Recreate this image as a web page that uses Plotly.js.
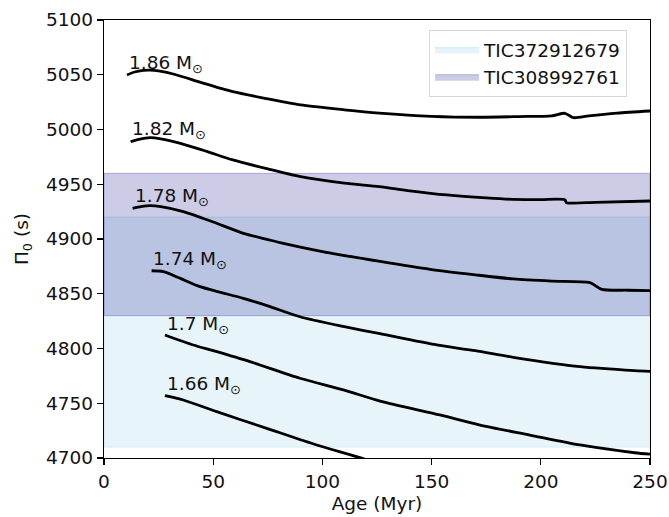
<!DOCTYPE html>
<html>
<head>
<meta charset="utf-8">
<script src="https://cdn.plot.ly/plotly-3.0.1.min.js"></script>
<style>
  html, body { margin: 0; padding: 0; background: #fff; }
  #chart { width: 669px; height: 517px; }
</style>
</head>
<body>
<div id="chart"></div>
<script>
// Period-spacing evolution tracks, Pi_0 (s) versus age (Myr), one per stellar mass
const masses = ["1.86", "1.82", "1.78", "1.74", "1.7", "1.66"];

const age186 = [10.5, 14, 18, 21, 25, 33, 45, 59, 75, 90, 110, 126, 150, 172, 190, 205, 211, 215, 222, 235, 250];
const pi186  = [5049.8, 5052.5, 5054, 5054.3, 5053.5, 5050, 5042.5, 5034.5, 5028, 5022.4, 5018, 5015, 5012, 5011.2, 5011.8, 5012.5, 5014.8, 5010.8, 5012.5, 5015, 5016.9];

const age182 = [12.2, 16, 21, 26, 35, 47, 59, 75, 90, 110, 126, 140, 157, 175, 187, 200, 211, 211.8, 225, 250];
const pi182  = [4988.9, 4991, 4992.5, 4991.5, 4987.4, 4980, 4972.2, 4964, 4956.9, 4951, 4947.8, 4944, 4940.2, 4937.5, 4936.2, 4936, 4935.8, 4933.2, 4933.5, 4934.7];

const age178 = [13.1, 17, 21, 26, 36.3, 50, 63.8, 75, 82.1, 100, 126.4, 149.3, 170, 187.4, 205, 222.5, 227.9, 240, 250];
const pi178  = [4928, 4929.5, 4930.4, 4929.5, 4925, 4915.5, 4905.2, 4899.5, 4896, 4888.5, 4879.5, 4872.3, 4867.3, 4863.5, 4861.5, 4860.1, 4854, 4853.2, 4852.8];

const age174 = [21.8, 27.2, 35, 44, 63.8, 75, 89.7, 110, 126.4, 153, 170, 187.4, 218, 243, 250];
const pi174  = [4871, 4870.2, 4864, 4856.5, 4845.8, 4839, 4829, 4820, 4813.5, 4803, 4798, 4792, 4783.4, 4779.8, 4779.2];

const age170 = [27.9, 40.9, 50, 66.8, 89.7, 110, 126.4, 153.8, 172.2, 195, 218, 243, 250];
const pi170  = [4812.3, 4803.2, 4798, 4788, 4772.8, 4762, 4752, 4739.3, 4730.1, 4721, 4711.9, 4704.8, 4703.5];

const age166 = [27.9, 36.3, 51.6, 74.5, 97.4, 117.2, 125];
const pi166  = [4756.9, 4753, 4742.3, 4727.1, 4711.9, 4700.3, 4695];

// Observed Pi_0 ranges for the two stars
const starNames = ["TIC372912679", "TIC308992761"];
const bandLow   = [4710, 4830];
const bandHigh  = [4920, 4960];
const ageSpan   = [0, 250];

// Where each mass label sits (age, Pi_0)
const labelAge = [10.6, 12.1, 13.4, 21.5, 28.0, 28.0];
const labelPi  = [5059.5, 4999.5, 4938.5, 4880.5, 4821.5, 4766.5];

const FONT = "DejaVu Sans, Verdana, sans-serif";
const FS = 18.5;

const bandStyles = [
  { fill: "rgba(135,206,235,0.2)", line: "rgba(135,206,235,0.25)" },
  { fill: "rgba(0,0,128,0.2)",     line: "rgba(0,0,128,0.2)" }
];

const traces = [];
starNames.forEach((name, i) => {
  const x0 = ageSpan[0], x1 = ageSpan[1];
  traces.push({
    type: "scatter",
    mode: "lines",
    name: name,
    x: [x0, x1, x1, x0, x0],
    y: [bandLow[i], bandLow[i], bandHigh[i], bandHigh[i], bandLow[i]],
    fill: "toself",
    fillcolor: bandStyles[i].fill,
    line: { color: bandStyles[i].line, width: 1.2 },
    hoverinfo: "skip"
  });
});

const tracks = [
  [age186, pi186], [age182, pi182], [age178, pi178],
  [age174, pi174], [age170, pi170], [age166, pi166]
];
tracks.forEach((t, i) => {
  traces.push({
    type: "scatter",
    mode: "lines",
    x: t[0],
    y: t[1],
    line: { color: "black", width: 2.8, shape: "spline", smoothing: 0.7 },
    showlegend: false,
    name: masses[i] + " Msun"
  });
});

const annotations = masses.map((m, i) => ({
  x: labelAge[i],
  y: labelPi[i],
  xref: "x",
  yref: "y",
  text: m + " M<sub>⊙</sub>",
  showarrow: false,
  xanchor: "left",
  yanchor: "middle",
  font: { family: FONT, size: FS, color: "#111" }
}));

const axisCommon = {
  showline: true,
  mirror: true,
  linecolor: "black",
  linewidth: 1.3,
  ticks: "outside",
  ticklen: 6,
  tickwidth: 1.3,
  tickcolor: "black",
  showgrid: false,
  zeroline: false,
  tickfont: { family: FONT, size: FS, color: "#111" }
};

const layout = {
  width: 669,
  height: 517,
  paper_bgcolor: "white",
  plot_bgcolor: "white",
  margin: { l: 104, r: 19, t: 20, b: 59 },
  showlegend: true,
  legend: {
    x: 0.958,
    y: 0.977,
    xanchor: "right",
    yanchor: "top",
    bgcolor: "rgba(255,255,255,0.85)",
    bordercolor: "#d6d6d6",
    borderwidth: 1,
    itemwidth: 44,
    font: { family: FONT, size: FS, color: "#111" },
    tracegroupgap: 0
  },
  xaxis: Object.assign({}, axisCommon, {
    range: [0, 250],
    tickvals: [0, 50, 100, 150, 200, 250],
    title: { text: "Age (Myr)", font: { family: FONT, size: FS, color: "#111" }, standoff: 6 }
  }),
  yaxis: Object.assign({}, axisCommon, {
    range: [4700, 5100],
    tickvals: [4700, 4750, 4800, 4850, 4900, 4950, 5000, 5050, 5100],
    title: { text: "Π<sub>0</sub> (s)", font: { family: FONT, size: FS, color: "#111" }, standoff: 12 }
  }),
  annotations: annotations
};

Plotly.newPlot("chart", traces, layout, { staticPlot: true, displayModeBar: false });
</script>
</body>
</html>
